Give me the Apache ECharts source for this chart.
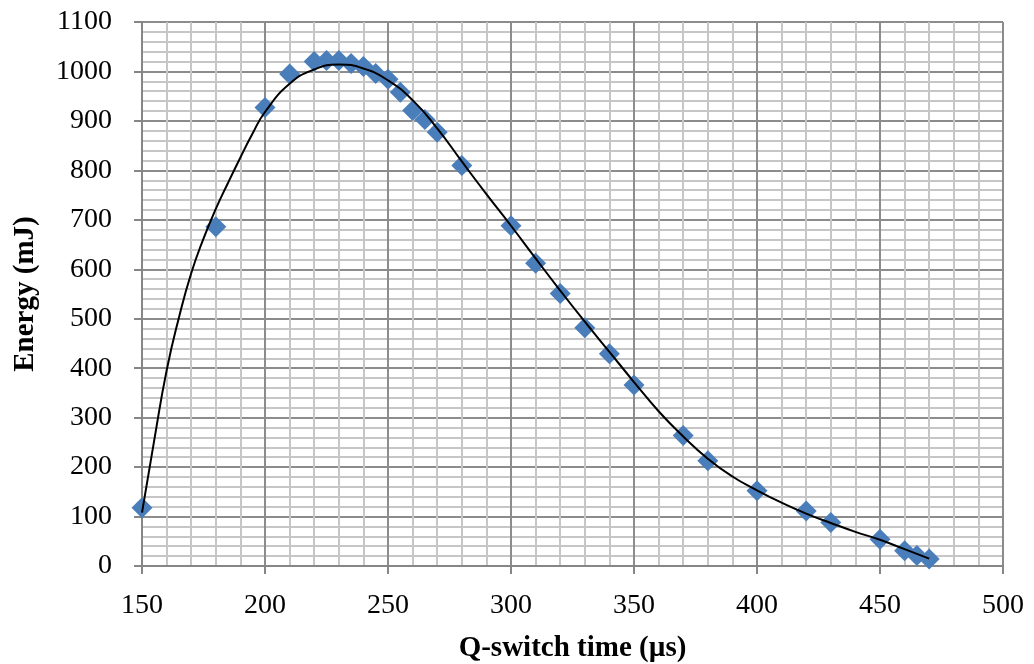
<!DOCTYPE html>
<html>
<head>
<meta charset="utf-8">
<script src="https://cdn.jsdelivr.net/npm/echarts@6/dist/echarts.min.js"></script>
<style>
  html, body { margin: 0; padding: 0; background: #fff; }
  #chart { width: 1034px; height: 664px; }
</style>
</head>
<body>
<div id="chart"></div>
<script>
// measured points (Q-switch time in us, energy in mJ)
let qTime = [150, 180, 200, 210, 220, 225, 230, 235, 240, 245, 250, 255, 260, 265, 270, 280,
    300, 310, 320, 330, 340, 350, 370, 380, 400, 420, 430, 450, 460, 465, 470];
let energy = [118, 686, 927, 995, 1020, 1022, 1022, 1016, 1010, 996, 984, 958, 921, 903, 877, 810,
    688, 612, 551, 482, 429, 366, 264, 213, 152, 111, 88, 54, 31, 21, 14];

// trend curve
let trendX = [150, 155, 160, 165, 170, 175, 180, 185, 190, 195, 200, 210, 220, 230, 240, 250, 260,
    270, 280, 290, 300, 310, 320, 330, 340, 350, 360, 370, 380, 390, 400, 410, 420, 430, 440, 450, 460, 470];
let trendY = [108, 255, 395, 502, 592, 662, 722, 775, 826, 875, 918, 975, 1004, 1014, 1006, 982, 942,
    885, 818, 752, 688, 622, 557, 494, 433, 372, 313, 262, 217, 181, 153, 128, 106, 87, 69, 53, 34, 15];

let xTicks = [150, 500, 50];
let yTicks = [0, 1100, 100];

let chart = echarts.init(document.getElementById('chart'));

let font = 'Liberation Serif';
let option = {
    animation: false,
    grid: {
        left: 142,
        right: 31,
        top: 22,
        bottom: 98,
        outerBoundsMode: 'none'
    },
    xAxis: {
        type: 'value',
        min: xTicks[0],
        max: xTicks[1],
        interval: xTicks[2],
        name: 'Q-switch time (µs)',
        nameLocation: 'middle',
        nameGap: 68,
        nameTextStyle: { fontFamily: font, fontSize: 29, fontWeight: 'bold', color: '#000' },
        axisLine: { show: true, lineStyle: { color: '#868686', width: 2 } },
        axisTick: { show: true, inside: false, length: 8, lineStyle: { color: '#868686', width: 2 } },
        axisLabel: { fontFamily: font, fontSize: 28, color: '#000', margin: 26 },
        splitLine: { show: true, lineStyle: { color: '#8c8c8c', width: 2 } },
        minorTick: { show: false, splitNumber: 5 },
        minorSplitLine: { show: true, lineStyle: { color: '#c6c6c6', width: 2 } }
    },
    yAxis: {
        type: 'value',
        min: yTicks[0],
        max: yTicks[1],
        interval: yTicks[2],
        name: 'Energy (mJ)',
        nameLocation: 'middle',
        nameRotate: 90,
        nameGap: 102,
        nameTextStyle: { fontFamily: font, fontSize: 29, fontWeight: 'bold', color: '#000' },
        axisLine: { show: true, lineStyle: { color: '#868686', width: 2 } },
        axisTick: { show: true, inside: false, length: 8, lineStyle: { color: '#868686', width: 2 } },
        axisLabel: {
            fontFamily: font, fontSize: 28, color: '#000', margin: 30,
            formatter: function (v) { return String(v); }
        },
        splitLine: { show: true, lineStyle: { color: '#8c8c8c', width: 2 } },
        minorTick: { show: false, splitNumber: 5 },
        minorSplitLine: { show: true, lineStyle: { color: '#c6c6c6', width: 2 } }
    },
    series: [{
        name: 'Energy',
        type: 'scatter',
        symbol: 'diamond',
        symbolSize: 21,
        itemStyle: { color: '#4a7ebb', opacity: 1 },
        data: qTime.map(function (t, i) { return [t, energy[i]]; }),
        z: 2
    }, {
        name: 'Trend',
        type: 'line',
        smooth: true,
        showSymbol: false,
        lineStyle: { color: '#000', width: 2 },
        data: trendX.map(function (t, i) { return [t, trendY[i]]; }),
        z: 3
    }]
};
chart.setOption(option);
</script>
</body>
</html>
